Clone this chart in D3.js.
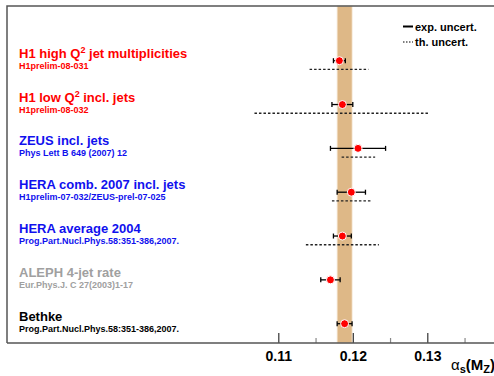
<!DOCTYPE html>
<html>
<head>
<meta charset="utf-8">
<script src="https://cdn.jsdelivr.net/npm/d3@7"></script>
<style>
  body { margin: 0; background: #fff; }
  svg { display: block; font-family: "Liberation Sans", Arial, sans-serif; font-weight: bold; }
</style>
</head>
<body>
<svg id="chart" width="494" height="376"></svg>
<script>
// measurements, one entry per row (top to bottom)
const titles = ['H1 high Q^2 jet multiplicities', 'H1 low Q^2 incl. jets', 'ZEUS incl. jets',
    'HERA comb. 2007 incl. jets', 'HERA average 2004', 'ALEPH 4-jet rate', 'Bethke'];
const refs = ['H1prelim-08-031', 'H1prelim-08-032', 'Phys Lett B 649 (2007) 12',
    'H1prelim-07-032/ZEUS-prel-07-025', 'Prog.Part.Nucl.Phys.58:351-386,2007.',
    'Eur.Phys.J. C 27(2003)1-17', 'Prog.Part.Nucl.Phys.58:351-386,2007.'];
const rowColors = ['#ff0000', '#ff0000', '#1010ee', '#1010ee', '#1010ee', '#a0a0a0', '#000000'];
const central = [0.1182, 0.1186, 0.1207, 0.1198, 0.1186, 0.1170, 0.1189];
const expErr = [0.0008, 0.0014, 0.0037, 0.0019, 0.0012, 0.0013, 0.0010];
const thLow = [0.0040, 0.0118, 0.0022, 0.0026, 0.0049, null, null];
const thHigh = [0.0039, 0.0117, 0.0023, 0.0026, 0.0049, null, null];
const worldBand = [0.1179, 0.1199];
const majorTicks = [0.11, 0.12, 0.13];
const minorTicks = [0.115, 0.125, 0.135];

const svg = d3.select('#chart');
const frameLeft = 7, frameTop = 6, axisY = 343;

const x = d3.scaleLinear().domain([0.11, 0.13]).range([278.3, 427.3]);
const y = d3.scalePoint().domain(d3.range(titles.length)).range([60.7, 323.7]);

// world average band
svg.append('rect')
    .attr('x', x(worldBand[0]))
    .attr('y', frameTop)
    .attr('width', x(worldBand[1]) - x(worldBand[0]))
    .attr('height', axisY - frameTop)
    .attr('fill', '#deb887')
    .attr('stroke', '#f3e3cc')
    .attr('stroke-width', 0.8);

// frame
svg.append('path')
    .attr('d', `M${frameLeft},${axisY}V${frameTop}H494`)
    .attr('fill', 'none')
    .attr('stroke', '#555')
    .attr('stroke-width', 1.5);

// x axis
const axis = svg.append('g').attr('transform', `translate(0,${axisY})`)
    .call(d3.axisTop(x).tickValues(majorTicks).tickSize(10).tickFormat(d3.format('.2f')));
axis.select('.domain').remove();
axis.selectAll('.tick line').attr('stroke', '#333').attr('stroke-width', 1.2);
axis.selectAll('.tick text')
    .attr('y', 18)
    .attr('dy', null)
    .attr('font-size', 14)
    .attr('font-weight', 'bold')
    .attr('font-family', '"Liberation Sans", Arial, sans-serif')
    .attr('fill', '#000');
svg.append('g').attr('transform', `translate(0,${axisY})`)
    .call(d3.axisTop(x).tickValues(minorTicks).tickSize(5).tickFormat(''))
    .call(g => g.select('.domain').remove())
    .selectAll('.tick line').attr('stroke', '#888').attr('stroke-width', 1.2);
svg.append('line')
    .attr('x1', frameLeft).attr('x2', 494)
    .attr('y1', axisY).attr('y2', axisY)
    .attr('stroke', '#555').attr('stroke-width', 1.5);

// axis title alpha_s(M_Z)
const axTitle = svg.append('text').attr('x', 451).attr('y', 370).attr('font-size', 15).attr('fill', '#000');
axTitle.append('tspan').text('α').attr('font-weight', 'normal');
axTitle.append('tspan').text('s').attr('font-size', 11).attr('dy', 3);
axTitle.append('tspan').text('(M').attr('dy', -3);
axTitle.append('tspan').text('Z').attr('font-size', 11).attr('dy', 3);
axTitle.append('tspan').text(')').attr('dy', -3);

// row labels
const rows = d3.range(titles.length);
const label = svg.append('g').selectAll('g').data(rows).join('g');
label.append('text')
    .attr('x', 19)
    .attr('y', i => y(i) - 3)
    .attr('font-size', 13)
    .attr('fill', i => rowColors[i])
    .each(function (i) {
        const parts = titles[i].split('^2');
        const t = d3.select(this);
        t.append('tspan').text(parts[0]);
        if (parts.length > 1) {
            t.append('tspan').text('2').attr('font-size', 9).attr('dy', -5);
            t.append('tspan').text(parts[1]).attr('dy', 5);
        }
    });
label.append('text')
    .attr('x', 19)
    .attr('y', i => y(i) + 8)
    .attr('font-size', 9)
    .attr('fill', i => rowColors[i])
    .text(i => refs[i]);

// theory uncertainties (dashed)
svg.append('g').selectAll('line')
    .data(rows.filter(i => thLow[i] !== null))
    .join('line')
    .attr('x1', i => x(central[i] - thLow[i]))
    .attr('x2', i => x(central[i] + thHigh[i]))
    .attr('y1', i => y(i) + 8.7)
    .attr('y2', i => y(i) + 8.7)
    .attr('stroke', '#222')
    .attr('stroke-width', 1.3)
    .attr('stroke-dasharray', '2.5,2');

// experimental uncertainties
const bars = svg.append('g').attr('stroke', '#000').attr('stroke-width', 1.3);
bars.selectAll('.bar').data(rows).join('line')
    .attr('class', 'bar')
    .attr('x1', i => x(central[i] - expErr[i]))
    .attr('x2', i => x(central[i] + expErr[i]))
    .attr('y1', i => y(i)).attr('y2', i => y(i));
bars.selectAll('.capL').data(rows).join('line')
    .attr('class', 'capL')
    .attr('x1', i => x(central[i] - expErr[i])).attr('x2', i => x(central[i] - expErr[i]))
    .attr('y1', i => y(i) - 2.5).attr('y2', i => y(i) + 2.5);
bars.selectAll('.capR').data(rows).join('line')
    .attr('class', 'capR')
    .attr('x1', i => x(central[i] + expErr[i])).attr('x2', i => x(central[i] + expErr[i]))
    .attr('y1', i => y(i) - 2.5).attr('y2', i => y(i) + 2.5);

// points
svg.append('g').selectAll('circle').data(rows).join('circle')
    .attr('cx', i => x(central[i]))
    .attr('cy', i => y(i))
    .attr('r', 4)
    .attr('fill', '#ff0000')
    .attr('stroke', '#fff')
    .attr('stroke-width', 1);

// legend
const legend = svg.append('g').attr('font-size', 11).attr('fill', '#000');
legend.append('line').attr('x1', 403).attr('x2', 413).attr('y1', 26.5).attr('y2', 26.5)
    .attr('stroke', '#000').attr('stroke-width', 2);
legend.append('text').attr('x', 415).attr('y', 30.5).text('exp. uncert.');
legend.append('line').attr('x1', 403).attr('x2', 413).attr('y1', 42).attr('y2', 42)
    .attr('stroke', '#000').attr('stroke-width', 1.2).attr('stroke-dasharray', '1.5,1.5');
legend.append('text').attr('x', 415).attr('y', 46).text('th. uncert.');
</script>
</body>
</html>
